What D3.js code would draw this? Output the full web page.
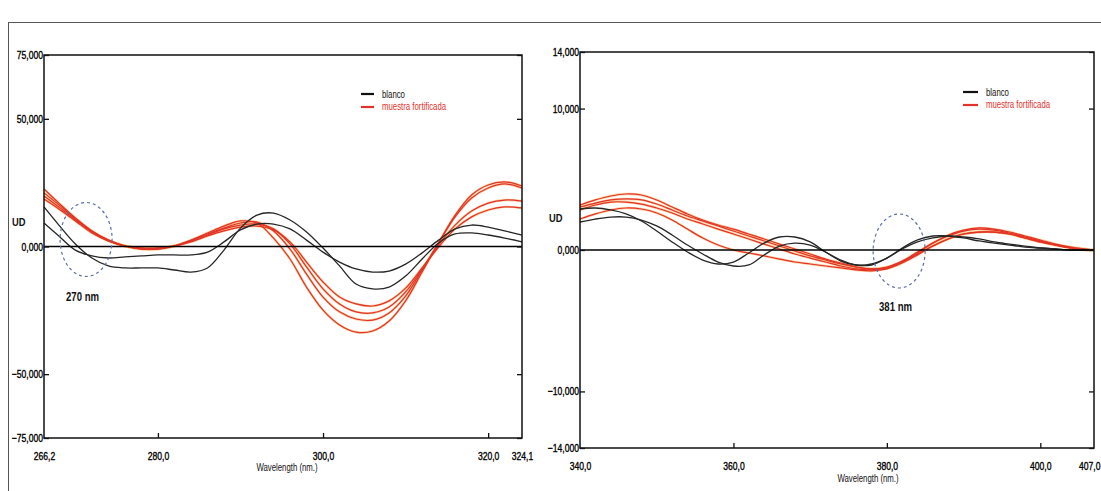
<!DOCTYPE html>
<html><head><meta charset="utf-8">
<script src="https://cdn.jsdelivr.net/npm/d3@7"></script>
<style>
html,body{margin:0;padding:0;background:#fff;}
svg{display:block;}
text{font-family:"Liberation Sans",Arial,sans-serif;}
.heavy{stroke:#000;stroke-width:0.35px;}
</style></head><body>
<svg id="chart" width="1101" height="491"></svg>
<script>
// ---------- data (values in UD, decimal comma display) ----------
const leftWavelengths = [266.2,268,270,272,274,276,278,280,282,284,286,288,290,292,294,296,298,300,302,304,306,308,310,312,314,316,318,320,322,324.1];
const leftBlanco1 = [15.5,8.4,1.0,-4.5,-7.6,-8.4,-8.4,-8.4,-9.2,-10.0,-8.4,-1.4,7.2,12.3,13.1,10.4,5.7,-0.6,-7.6,-14.7,-16.6,-15.9,-11.6,-4.9,1.4,4.9,5.3,4.5,3.3,1.8];
const leftBlanco2 = [9.2,4.1,-1.4,-3.7,-4.5,-4.1,-3.7,-3.3,-3.3,-3.3,-2.2,1.8,6.5,8.8,8.8,6.9,2.5,-2.2,-6.1,-8.8,-10.0,-9.6,-6.9,-2.5,2.5,6.9,8.4,7.6,6.1,4.5];
const leftMuestra1 = [22.5,17.0,11.2,6.1,2.5,0.2,-1.0,-1.0,0.2,2.5,5.3,8.0,10.0,9.2,3.3,-4.9,-15.9,-24.9,-30.7,-33.5,-33.1,-29.2,-21.3,-10.0,1.4,12.3,20.2,24.1,25.3,23.7];
const leftMuestra2 = [21.0,16.3,10.8,6.1,2.5,0.2,-1.0,-1.0,0.2,2.2,4.9,7.2,9.2,9.6,6.1,-1.0,-10.8,-19.8,-25.6,-28.4,-28.8,-26.0,-19.4,-9.2,1.4,11.6,19.0,22.9,24.5,22.9];
const leftMuestra3 = [19.8,15.5,10.4,5.7,2.2,0.2,-0.6,-0.6,0.2,2.2,4.5,6.9,8.4,8.8,6.9,1.0,-8.0,-16.6,-22.5,-25.6,-26.0,-23.7,-17.8,-8.8,0.6,8.4,13.9,17.0,18.2,17.8];
const leftMuestra4 = [18.6,14.7,10.0,5.3,2.2,0.2,-0.6,-0.6,0.2,1.8,4.1,6.1,7.6,8.0,6.5,1.8,-6.1,-13.9,-19.8,-22.5,-23.3,-21.3,-16.3,-8.4,-0.2,6.9,11.6,14.3,15.5,15.1];
const leftXTicks = [266.2,280,300,320,324.1];
const leftYTicks = [75,50,0,-50,-75];

const rightWavelengths = [340,342,344,346,348,350,352,354,356,358,360,362,364,366,368,370,372,374,376,378,380,382,384,386,388,390,392,394,396,398,400,402,404,406,407];
const rightBlanco1 = [2.90,2.97,2.83,2.55,2.05,1.34,0.57,-0.14,-0.71,-0.99,-0.85,-0.21,0.49,0.92,0.92,0.57,-0.14,-0.78,-1.06,-0.99,-0.57,0.07,0.57,0.85,0.99,0.92,0.78,0.57,0.42,0.28,0.14,0.07,0,0,0];
const rightBlanco2 = [1.98,2.19,2.33,2.33,2.12,1.70,1.06,0.35,-0.28,-0.85,-1.13,-1.06,-0.35,0.28,0.49,0.35,-0.14,-0.71,-1.06,-1.06,-0.57,0.14,0.71,0.99,0.99,0.85,0.64,0.49,0.35,0.21,0.14,0.07,0,0,0];
const rightMuestra1 = [3.18,3.54,3.82,3.96,3.89,3.54,3.04,2.55,2.12,1.77,1.48,1.13,0.78,0.42,0.07,-0.28,-0.64,-0.92,-1.20,-1.34,-1.27,-0.85,-0.21,0.49,1.06,1.41,1.56,1.48,1.27,0.99,0.71,0.42,0.21,0.07,0];
const rightMuestra2 = [3.04,3.32,3.54,3.61,3.54,3.25,2.83,2.40,2.05,1.70,1.34,0.99,0.64,0.28,-0.07,-0.42,-0.71,-0.99,-1.20,-1.34,-1.20,-0.78,-0.14,0.49,0.99,1.34,1.48,1.41,1.20,0.92,0.64,0.35,0.14,0,0];
const rightMuestra3 = [2.83,3.18,3.39,3.39,3.25,2.97,2.62,2.19,1.84,1.48,1.13,0.78,0.42,0.07,-0.28,-0.57,-0.85,-1.13,-1.34,-1.41,-1.27,-0.85,-0.28,0.28,0.78,1.13,1.27,1.27,1.13,0.85,0.57,0.35,0.14,0,0];
const rightMuestra4 = [2.19,2.55,2.83,2.97,2.90,2.62,2.12,1.48,0.85,0.35,0,-0.21,-0.42,-0.64,-0.85,-0.99,-1.13,-1.27,-1.41,-1.48,-1.34,-0.92,-0.35,0.28,0.78,1.13,1.27,1.27,1.13,0.85,0.57,0.35,0.14,0,0];
const rightXTicks = [340,360,380,400,407];
const rightYTicks = [14,10,0,-10,-14];

const legendLabels = ["blanco","muestra fortificada"];
const yTitle = "UD";
const xTitle = "Wavelength (nm.)";
const leftNote = "270 nm";
const rightNote = "381 nm";
const leftMarkWl = 271.3;
const rightMarkWl = 381.6;

// ---------- drawing ----------
const loc = d3.formatLocale({decimal:",",thousands:".",grouping:[3],currency:["",""]});
const fy = loc.format(".3f"), fx = loc.format(".1f");
const svg = d3.select("#chart");

// horizontally condense text around its anchor x
function narrow(sel,k){
  sel.each(function(){
    const t=d3.select(this); const x0=+t.attr("x")||0;
    t.attr("transform",`translate(${x0*(1-k)},0) scale(${k},1)`);
  });
}

svg.append("rect").attr("x",8.5).attr("y",22.5).attr("width",1100).attr("height",480)
  .attr("fill","none").attr("stroke","#555").attr("stroke-width",1);

function panel(cfg){
  const x = d3.scaleLinear().domain(cfg.xDomain).range([cfg.x0,cfg.x1]);
  const y = d3.scaleLinear().domain(cfg.yDomain).range([cfg.yb,cfg.yt]);
  const g = svg.append("g");

  // curves
  const line = d3.line().x((d,i)=>x(cfg.wl[i])).y(d=>y(d)).curve(d3.curveCatmullRom.alpha(0.5));
  cfg.red.forEach(s=>{
    g.append("path").attr("d",line(s)).attr("fill","none").attr("stroke","#f4a23a").attr("stroke-opacity",0.5).attr("stroke-width",2.4);
  });
  cfg.red.forEach(s=>{
    g.append("path").attr("d",line(s)).attr("fill","none").attr("stroke","#e3322b").attr("stroke-width",1.2);
  });
  cfg.black.forEach(s=>{
    g.append("path").attr("d",line(s)).attr("fill","none").attr("stroke","#262626").attr("stroke-width",1.3);
  });

  // zero line
  g.append("line").attr("x1",cfg.x0).attr("x2",cfg.x1).attr("y1",y(0)).attr("y2",y(0))
    .attr("stroke","#000").attr("stroke-width",1.6);

  // frame
  g.append("rect").attr("x",cfg.x0).attr("y",cfg.yt).attr("width",cfg.x1-cfg.x0).attr("height",cfg.yb-cfg.yt)
    .attr("fill","none").attr("stroke","#111").attr("stroke-width",1.5);

  // y axis (ticks inward)
  const ya = d3.axisLeft(y).tickValues(cfg.yTicks).tickFormat(fy).tickSize(-5).tickPadding(2);
  const yg = g.append("g").attr("transform",`translate(${cfg.x0},0)`).call(ya);
  yg.select(".domain").remove();
  yg.selectAll("text").attr("font-size",11).attr("fill","#000").attr("class","heavy").attr("x",-1).call(narrow,0.78);
  yg.selectAll("line").attr("stroke","#111").attr("stroke-width",1.3);
  const ya2 = d3.axisRight(y).tickValues(cfg.yTicks).tickFormat("").tickSize(-5);
  const yg2 = g.append("g").attr("transform",`translate(${cfg.x1},0)`).call(ya2);
  yg2.select(".domain").remove();
  yg2.selectAll("line").attr("stroke","#111").attr("stroke-width",1.3);

  // x axis
  const xa = d3.axisBottom(x).tickValues(cfg.xTicks).tickFormat(fx).tickSize(-5).tickPadding(cfg.xPad);
  const xg = g.append("g").attr("transform",`translate(0,${cfg.yb})`).call(xa);
  xg.select(".domain").remove();
  xg.selectAll("text").attr("font-size",11).attr("fill","#000").attr("class","heavy");
  xg.selectAll(".tick").filter(d=>d===cfg.xDomain[0]||d===cfg.xDomain[1]).select("line").remove();
  if(cfg.lastEnd){
    xg.selectAll(".tick").filter(d=>d===cfg.xDomain[1]).select("text").attr("text-anchor","end").attr("x",cfg.lastEnd);
  }
  xg.selectAll("text").call(narrow,0.78);
  xg.selectAll("line").attr("stroke","#111").attr("stroke-width",1.3);

  // titles
  g.append("text").attr("x",cfg.udX).attr("y",cfg.udY).attr("font-size",11).attr("font-weight","bold").attr("fill","#111").text(yTitle).call(narrow,0.85);
  g.append("text").attr("x",cfg.wlX).attr("y",cfg.wlY).attr("font-size",10).attr("text-anchor","middle").attr("fill","#111").text(xTitle).call(narrow,0.78);

  // legend
  const lg = g.append("g").attr("transform",`translate(${cfg.legX},${cfg.legY})`);
  [["#111",legendLabels[0]],["#e3322b",legendLabels[1]]].forEach((d,i)=>{
    lg.append("line").attr("x1",0).attr("x2",cfg.legW).attr("y1",i*13).attr("y2",i*13).attr("stroke",d[0]).attr("stroke-width",2.2);
    lg.append("text").attr("x",cfg.legW+8).attr("y",i*13+3.5).attr("font-size",10).attr("fill",i?"#e3322b":"#111").text(d[1]).call(narrow,0.78);
  });

  // annotation ellipse + text
  g.append("ellipse").attr("cx",x(cfg.markWl)).attr("cy",y(0)-cfg.ellOff).attr("rx",26).attr("ry",37)
    .attr("fill","none").attr("stroke","#5b6fa6").attr("stroke-width",1.2).attr("stroke-dasharray","3,3");
  g.append("text").attr("x",cfg.noteX).attr("y",cfg.noteY).attr("font-size",12).attr("font-weight","bold").attr("fill","#111").text(cfg.note).call(narrow,0.8);
}

panel({
  wl:leftWavelengths, red:[leftMuestra1,leftMuestra2,leftMuestra3,leftMuestra4], black:[leftBlanco1,leftBlanco2],
  xDomain:[266.2,324.1], yDomain:[-75,75], x0:44, x1:522, yt:55, yb:438,
  xTicks:leftXTicks, yTicks:leftYTicks, xPad:14, lastEnd:null,
  udX:12, udY:226, wlX:287, wlY:471, legX:361, legY:94, legW:13,
  markWl:leftMarkWl, ellOff:7, note:leftNote, noteX:66, noteY:301
});
panel({
  wl:rightWavelengths, red:[rightMuestra1,rightMuestra2,rightMuestra3,rightMuestra4], black:[rightBlanco1,rightBlanco2],
  xDomain:[340,407], yDomain:[-14,14], x0:580, x1:1094, yt:52, yb:448,
  xTicks:rightXTicks, yTicks:rightYTicks, xPad:14, lastEnd:6,
  udX:549, udY:222, wlX:868, wlY:482, legX:963, legY:92, legW:15,
  markWl:rightMarkWl, ellOff:-1, note:rightNote, noteX:879, noteY:311
});
</script></body></html>
